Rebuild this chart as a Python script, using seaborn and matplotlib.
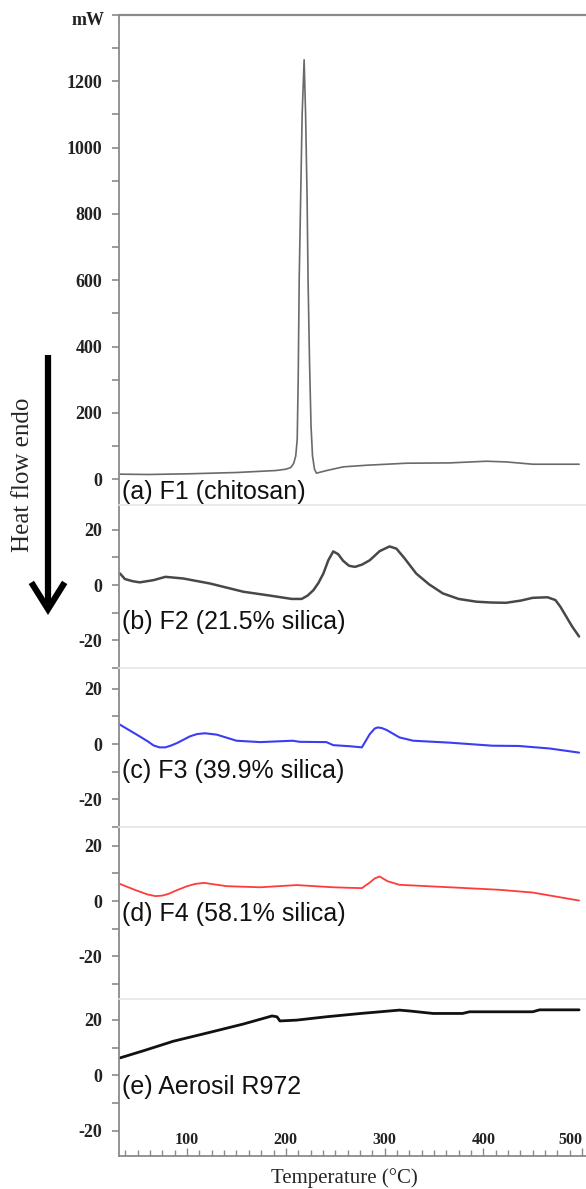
import numpy as np
import pandas as pd
import matplotlib
matplotlib.use('Agg')
import matplotlib.pyplot as plt
import matplotlib.transforms as mtransforms
from matplotlib.ticker import MultipleLocator, FixedLocator
import seaborn as sns

sns.set_style('ticks')
plt.rcParams['font.family'] = ['Liberation Serif', 'DejaVu Serif']
plt.rcParams['axes.unicode_minus'] = False

# DSC curves (temperature in degC, heat flow in mW)
temp_a = [32, 60, 100, 150, 190, 200, 205, 208, 210, 211.5, 212.5, 213.5, 215, 216.5, 218.5,
          220, 221.5, 222.5, 224, 225.5, 227, 229, 231, 240, 258, 282, 322, 366, 403, 423, 450, 497]
hf_a = [15, 14, 16, 20, 26, 30, 35, 48, 70, 120, 300, 600, 850, 1100, 1265,
        1100, 850, 600, 350, 160, 70, 30, 18, 25, 37, 42, 48, 49, 54, 52, 45, 45]

temp_b = [32, 37, 45, 52, 66, 78, 96, 123, 157, 184, 206, 216, 222, 228, 233, 238, 243, 248,
          253, 258, 264, 270, 277, 285, 295, 305, 312, 320, 332, 345, 359, 375, 393, 408,
          423, 438, 450, 465, 473, 478, 484, 490, 497]
hf_b = [4.2, 2.2, 1.4, 1.0, 1.8, 3.0, 2.4, 0.6, -2.4, -3.8, -5.0, -5.0, -3.8, -1.8, 0.8, 4.2, 9.0, 12.2,
        11.2, 8.8, 7.0, 6.6, 7.4, 9.0, 12.3, 14.0, 13.2, 9.8, 4.2, 0.3, -3.0, -5.0, -6.0, -6.3,
        -6.4, -5.6, -4.6, -4.4, -5.4, -7.8, -11.4, -15.0, -18.6]

temp_c = [32, 49, 60, 66, 72, 78, 84, 90, 103, 110, 118, 130, 150, 174, 207, 214, 241, 248, 265,
          277, 280, 285, 290, 293, 297, 302, 315, 329, 366, 409, 436, 467, 497]
hf_c = [7.0, 3.4, 1.0, -0.5, -1.2, -1.2, -0.5, 0.4, 2.8, 3.6, 3.9, 3.4, 1.2, 0.7, 1.2, 0.8, 0.7, -0.4, -0.8,
        -1.2, 0.6, 3.6, 5.6, 6.0, 5.8, 5.1, 2.4, 1.2, 0.5, -0.6, -0.7, -1.6, -3.1]

temp_d = [32, 49, 60, 68, 75, 81, 90, 100, 108, 117, 140, 174, 211, 248, 265, 277, 285, 290,
          295, 303, 315, 366, 416, 450, 497]
hf_d = [6.2, 3.8, 2.4, 1.8, 2.0, 2.6, 4.0, 5.4, 6.2, 6.6, 5.4, 5.0, 5.8, 5.0, 4.8, 4.7, 6.7, 8.2,
        8.9, 7.2, 5.9, 5.0, 4.1, 3.1, 0.2]

temp_e = [32, 56, 86, 123, 157, 186, 191, 194, 211, 241, 276, 315, 325, 349, 379,
          386, 450, 457, 497]
hf_e = [6.3, 8.9, 12.3, 15.5, 18.5, 21.4, 21.1, 19.6, 19.9, 21.1, 22.3, 23.5, 23.2, 22.3, 22.3,
        22.9, 22.9, 23.6, 23.6]

labels = ['(a) F1 (chitosan)', '(b) F2 (21.5% silica)', '(c) F3 (39.9% silica)',
          '(d) F4 (58.1% silica)', '(e) Aerosil R972']
colors = ['#6a6a6a', '#484848', '#3c3cf5', '#ff3b3b', '#111111']
widths = [1.2, 1.8, 1.5, 1.3, 2.0]

# panel boundaries in pixels (top, bottom) and y ranges
W, H = 586, 1189
bounds = [(15, 505), (505, 668), (668, 827), (827, 999), (999, 1156)]
ylims = [(-78, 1400), (-30, 29), (-30, 27.5), (-35.4, 26.8), (-29, 27.5)]
label_y = [-39, -13.3, -9.7, -4.6, -4.3]

curves = [(temp_a, hf_a), (temp_b, hf_b), (temp_c, hf_c), (temp_d, hf_d), (temp_e, hf_e)]

fig = plt.figure(figsize=(W / 100, H / 100), dpi=100)
left = 119 / W
tick_font = dict(family='Liberation Serif', weight='bold', size=13)
spine_col = '#8a8a8a'

axes = []
for i, ((top, bot), (t, hf)) in enumerate(zip(bounds, curves)):
    ax = fig.add_axes([left, (H - bot) / H, 1 - left, (bot - top) / H])
    df = pd.DataFrame({'T': t, 'HF': hf})
    sns.lineplot(data=df, x='T', y='HF', ax=ax, color=colors[i], lw=widths[i])
    ax.set_xlim(31, 504)
    ax.set_ylim(*ylims[i])
    ax.set_xlabel('')
    ax.set_ylabel('')
    ax.spines['right'].set_visible(False)
    ax.spines['left'].set_color(spine_col)
    ax.spines['left'].set_linewidth(1.3)
    if i == 0:
        ax.spines['top'].set_color(spine_col)
        ax.spines['top'].set_linewidth(1.6)
        ax.yaxis.set_major_locator(FixedLocator([0, 200, 400, 600, 800, 1000, 1200]))
        ax.yaxis.set_minor_locator(MultipleLocator(100))
    else:
        ax.spines['top'].set_color('#e6e6e6')
        ax.spines['top'].set_linewidth(1.2)
        ax.yaxis.set_major_locator(FixedLocator([-20, 0, 20]))
        ax.yaxis.set_minor_locator(MultipleLocator(10))
    ax.tick_params(axis='y', which='major', direction='out', length=5, width=1.2,
                   color=spine_col, pad=7)
    ax.tick_params(axis='y', which='minor', direction='out', length=5, width=1.2,
                   color=spine_col)
    for lab in ax.get_yticklabels():
        lab.set_fontproperties(tick_font)
        lab.set_color('#222222')
    ax.text(34.5, label_y[i], labels[i], family='Liberation Sans', fontsize=18,
            va='center', ha='left', color='#111111')
    if i < 4:
        ax.spines['bottom'].set_visible(False)
        ax.set_xticks([])
    axes.append(ax)

# bottom axis with labels sitting above the axis line
axe = axes[-1]
axe.spines['bottom'].set_color(spine_col)
axe.spines['bottom'].set_linewidth(1.3)
axe.set_xticks([100, 200, 300, 400, 500])
axe.xaxis.set_minor_locator(MultipleLocator(12.5))
axe.tick_params(axis='x', which='major', direction='in', length=6, width=1.0,
                color=spine_col, pad=-17)
axe.tick_params(axis='x', which='minor', direction='in', length=4, width=1.0,
                color=spine_col)
for lab in axe.get_xticklabels():
    lab.set_fontproperties(dict(family='Liberation Serif', weight='bold', size=11.5))
    lab.set_color('#222222')
axe.get_xticklabels()[-1].set_ha('right')

# mW unit at the top of the first panel
axa = axes[0]
trans = mtransforms.blended_transform_factory(axa.transAxes, axa.transData)
axa.text(-0.03, 1383, 'mW', transform=trans, ha='right', va='center',
         fontproperties=tick_font, color='#222222')

fig.text(344 / W, 1 - 1178 / H, 'Temperature (\u00b0C)', ha='center', va='center',
         family='Liberation Serif', fontsize=15)
fig.text(23 / W, 1 - 475 / H, 'Heat flow endo', rotation=90, ha='center', va='center',
         family='Liberation Serif', fontsize=18)

axa.annotate('', xy=(48, H - 615), xytext=(48, H - 355),
             xycoords='figure pixels', textcoords='figure pixels',
             arrowprops=dict(arrowstyle='->,head_length=0.8,head_width=0.5',
                             lw=4.5, color='black', mutation_scale=24,
                             shrinkA=0, shrinkB=0, capstyle='butt', joinstyle='miter'),
             annotation_clip=False)

fig.savefig('out.png', dpi=100)
